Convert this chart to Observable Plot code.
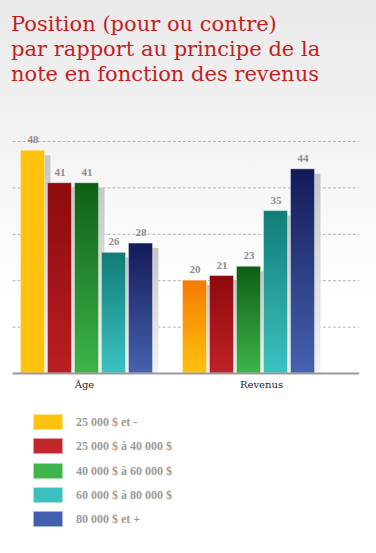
<!DOCTYPE html>
<html><head><meta charset="utf-8">
<script src="https://cdn.jsdelivr.net/npm/d3@7"></script>
<script src="https://cdn.jsdelivr.net/npm/@observablehq/plot@0.6"></script>
<style>
html,body{margin:0;padding:0;}
body{width:376px;height:553px;overflow:hidden;background:linear-gradient(to bottom,#e9e9e9 0px,#f2f2f2 130px,#fafafa 230px,#fff 300px);}
#title{box-sizing:border-box;height:100px;padding:12px 0 0 11px;font-family:"DejaVu Serif";font-size:21px;line-height:25px;color:#C41E24;white-space:pre;}
#chart svg{display:block;}
#legend{position:relative;height:153px;}
.row{position:absolute;left:0;height:16px;width:376px;}
.sw{position:absolute;left:33px;top:0;width:30px;height:16px;box-sizing:border-box;border:1px solid rgba(255,255,255,0.55);}
.lb{position:absolute;left:76px;top:0;line-height:16px;font-weight:bold;font-size:12px;font-family:"Liberation Serif";color:#9a9a9a;white-space:nowrap;}
</style>
</head><body>
<div id="title"></div>
<div id="chart"></div>
<div id="legend"></div>
<script>
const titleLines = ["Position (pour ou contre)", "par rapport au principe de la", "note en fonction des revenus"];
const groups = ["Âge", "Revenus"];
const series = ["25 000 $ et -", "25 000 $ à 40 000 $", "40 000 $ à 60 000 $", "60 000 $ à 80 000 $", "80 000 $ et +"];
const ageValues = [48, 41, 41, 26, 28];
const revenusValues = [20, 21, 23, 35, 44];
const gridValues = [10, 20, 30, 40, 50];

// styles
const legendColors = ["#FFC20E", "#C1272D", "#3DB54A", "#3BBFBF", "#4360AE"];
const topColors = [["#FFC20E", "#8E0A0B", "#0E5E15", "#117C76", "#131B58"],
                   ["#F57A00", "#8E0A0B", "#0E5E15", "#117C76", "#131B58"]];
const bottomColors = [["#FFC20E", "#B81F22", "#3DB54A", "#3CC2C2", "#4662AE"],
                      ["#FFC10E", "#BE2228", "#3DB54A", "#3CC2C2", "#4662AE"]];

document.getElementById("title").textContent = titleLines.join("\n");

const rows = [
  ...series.map((s, i) => ({group: groups[0], gi: 0, series: s, i, value: ageValues[i]})),
  ...series.map((s, i) => ({group: groups[1], gi: 1, series: s, i, value: revenusValues[i]}))
];
const gridAge = gridValues.map(v => ({group: groups[0], v}));
const gridRev = gridValues.map(v => ({group: groups[1], v}));
const baseAge = [{group: groups[0], v: 0}];
const baseRev = [{group: groups[1], v: 0}];

const chart = Plot.plot({
  width: 376,
  height: 300,
  marginTop: 41,
  marginBottom: 27,
  marginLeft: 19.5,
  marginRight: 59.2,
  fx: {domain: groups, paddingInner: 0.1727, paddingOuter: 0, axis: null},
  x: {domain: series, paddingInner: 0.11, paddingOuter: 0, axis: null},
  y: {domain: [0, 50], axis: null},
  color: {type: "identity"},
  style: {background: "transparent", overflow: "visible"},
  marks: [
    Plot.ruleY(gridAge, {y: "v", fx: "group", stroke: "#b3b3b3", strokeDasharray: "3,2", insetLeft: -7.5, insetRight: -14.1}),
    Plot.ruleY(gridRev, {y: "v", fx: "group", stroke: "#b3b3b3", strokeDasharray: "3,2", insetLeft: -14.1, insetRight: -43.2}),
    Plot.barY(rows, {fx: "group", x: "series", y: "value", fill: () => "url(#shadowGrad)", dx: 6, insetTop: 5}),
    Plot.barY(rows, {fx: "group", x: "series", y: "value", fill: d => `url(#bar-${d.gi}-${d.i})`, stroke: "#ffffff", strokeOpacity: 0.35, strokeWidth: 1}),
    Plot.ruleY(baseAge, {y: "v", fx: "group", stroke: "#9a9a9a", strokeWidth: 2, insetLeft: -7.5, insetRight: -14.1}),
    Plot.ruleY(baseRev, {y: "v", fx: "group", stroke: "#9a9a9a", strokeWidth: 2, insetLeft: -14.1, insetRight: -43.2}),
    Plot.text(rows, {fx: "group", x: "series", y: "value", text: "value", dy: -11, fill: "#8e8e8e", fontWeight: "bold", fontSize: 11, fontFamily: "Liberation Serif"}),
    Plot.text([{group: groups[0]}], {fx: "group", text: "group", frameAnchor: "bottom", dy: 14, dx: -3, fill: "#222", fontSize: 10, fontFamily: "DejaVu Serif"}),
    Plot.text([{group: groups[1]}], {fx: "group", text: "group", frameAnchor: "bottom", dy: 14, dx: 12, fill: "#222", fontSize: 10, fontFamily: "DejaVu Serif"})
  ]
});

// gradients
const svg = d3.select(chart);
const defs = svg.insert("defs", ":first-child");
const sg = defs.append("linearGradient").attr("id", "shadowGrad").attr("x1", 0).attr("y1", 0).attr("x2", 0).attr("y2", 1);
sg.append("stop").attr("offset", 0).attr("stop-color", "#c6c6c6");
sg.append("stop").attr("offset", 1).attr("stop-color", "#f2f2f2");
groups.forEach((g, gi) => series.forEach((s, i) => {
  const lg = defs.append("linearGradient").attr("id", `bar-${gi}-${i}`).attr("x1", 0).attr("y1", 0).attr("x2", 0).attr("y2", 1);
  lg.append("stop").attr("offset", 0).attr("stop-color", topColors[gi][i]);
  lg.append("stop").attr("offset", 1).attr("stop-color", bottomColors[gi][i]);
}));
document.getElementById("chart").appendChild(chart);

// legend
const legend = d3.select("#legend");
series.forEach((s, i) => {
  const row = legend.append("div").attr("class", "row").style("top", (14 + i * 24.3) + "px");
  row.append("div").attr("class", "sw").style("background", legendColors[i]);
  row.append("div").attr("class", "lb").text(s);
});
</script>
</body></html>
